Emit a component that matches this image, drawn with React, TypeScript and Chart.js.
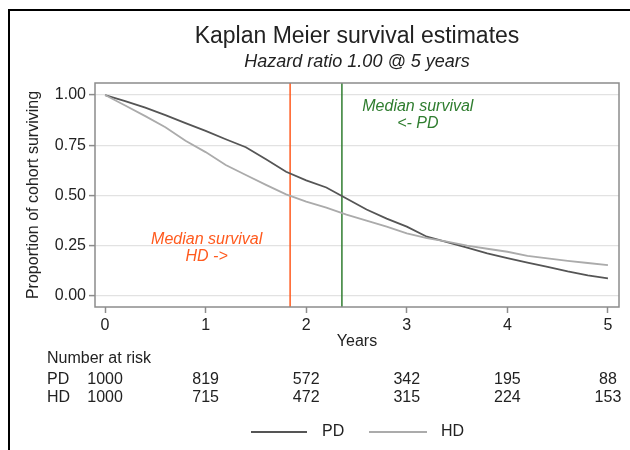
import React, { useEffect, useRef } from "react";
import { Chart, registerables } from "chart.js";

Chart.register(...registerables);

// ---- data ----
const years = [0, 0.2, 0.4, 0.6, 0.8, 1.0, 1.2, 1.4, 1.6, 1.8, 2.0, 2.2, 2.4, 2.6, 2.8, 3.0, 3.2, 3.4, 3.6, 3.8, 4.0, 4.2, 4.4, 4.6, 4.8, 5.0];
const pdSurvival = [1.0, 0.97, 0.937, 0.9, 0.86, 0.822, 0.78, 0.74, 0.68, 0.618, 0.575, 0.54, 0.485, 0.43, 0.385, 0.345, 0.295, 0.268, 0.24, 0.212, 0.188, 0.166, 0.145, 0.122, 0.102, 0.088];
const hdSurvival = [1.0, 0.948, 0.895, 0.84, 0.772, 0.716, 0.652, 0.602, 0.553, 0.506, 0.47, 0.44, 0.405, 0.375, 0.345, 0.312, 0.288, 0.27, 0.25, 0.235, 0.22, 0.2, 0.187, 0.175, 0.164, 0.153];
const xTickValues = [0, 1, 2, 3, 4, 5];
const yTickValues = [0, 0.25, 0.5, 0.75, 1.0];
const riskYears = [0, 1, 2, 3, 4, 5];
const pdAtRisk = [1000, 819, 572, 342, 195, 88];
const hdAtRisk = [1000, 715, 472, 315, 224, 153];
const medianHD = 1.84;
const medianPD = 2.355;
const titleText = "Kaplan Meier survival estimates";
const subtitleText = "Hazard ratio 1.00 @ 5 years";
const yTitle = "Proportion of cohort surviving";
const xTitle = "Years";

const FONT = '"Liberation Sans", Arial, Helvetica, sans-serif';
const TEXT = "#222222";
const PD_COLOR = "#555555";
const HD_COLOR = "#ababab";
const ORANGE = "#ff5a1e";
const GREEN = "#2f7d2f";

const decorPlugin = {
  id: "decor",
  beforeDatasetsDraw(chart: any) {
    const { ctx, chartArea, scales } = chart;
    const xs = scales.x;
    ctx.save();
    ctx.lineWidth = 1.5;
    ctx.strokeStyle = ORANGE;
    let px = xs.getPixelForValue(medianHD);
    ctx.beginPath();
    ctx.moveTo(px, chartArea.top);
    ctx.lineTo(px, chartArea.bottom);
    ctx.stroke();
    ctx.strokeStyle = GREEN;
    px = xs.getPixelForValue(medianPD);
    ctx.beginPath();
    ctx.moveTo(px, chartArea.top);
    ctx.lineTo(px, chartArea.bottom);
    ctx.stroke();
    ctx.restore();
  },
  afterDraw(chart: any) {
    const { ctx, chartArea, scales } = chart;
    const xs = scales.x;
    const ys = scales.y;
    ctx.save();
    // outer black border (left & top)
    ctx.fillStyle = "#000";
    ctx.fillRect(8, 9, 2, 441);
    ctx.fillRect(8, 9, 622, 2);

    // plot frame
    ctx.strokeStyle = "#8c8c8c";
    ctx.lineWidth = 1.5;
    ctx.strokeRect(chartArea.left, chartArea.top, chartArea.right - chartArea.left, chartArea.bottom - chartArea.top);

    const cx = (chartArea.left + chartArea.right) / 2;
    ctx.fillStyle = TEXT;
    ctx.textBaseline = "middle";
    ctx.textAlign = "center";
    ctx.font = `23px ${FONT}`;
    ctx.fillText(titleText, cx, 37);
    ctx.font = `italic 18px ${FONT}`;
    ctx.fillText(subtitleText, cx, 62);

    // axis titles
    ctx.font = `16px ${FONT}`;
    ctx.fillText(xTitle, cx, 342);
    ctx.save();
    ctx.translate(34, (chartArea.top + chartArea.bottom) / 2);
    ctx.rotate(-Math.PI / 2);
    ctx.fillText(yTitle, 0, 0);
    ctx.restore();

    // annotations
    ctx.font = `italic 16px ${FONT}`;
    ctx.fillStyle = ORANGE;
    const ox = xs.getPixelForValue(1.01);
    ctx.fillText("Median survival", ox, ys.getPixelForValue(0.279));
    ctx.fillText("HD ->", ox, ys.getPixelForValue(0.194));
    ctx.fillStyle = GREEN;
    const gx = xs.getPixelForValue(3.11);
    ctx.fillText("Median survival", gx, ys.getPixelForValue(0.945));
    ctx.fillText("<- PD", gx, ys.getPixelForValue(0.856));

    // number at risk
    ctx.fillStyle = TEXT;
    ctx.font = `16px ${FONT}`;
    ctx.textAlign = "left";
    ctx.fillText("Number at risk", 47, 359);
    ctx.fillText("PD", 47, 380);
    ctx.fillText("HD", 47, 398);
    ctx.textAlign = "center";
    riskYears.forEach((t, i) => {
      const x = xs.getPixelForValue(t);
      ctx.fillText(String(pdAtRisk[i]), x, 380);
      ctx.fillText(String(hdAtRisk[i]), x, 398);
    });

    // legend
    const ly = 432;
    ctx.lineWidth = 2;
    ctx.strokeStyle = PD_COLOR;
    ctx.beginPath();
    ctx.moveTo(251, ly);
    ctx.lineTo(307, ly);
    ctx.stroke();
    ctx.strokeStyle = HD_COLOR;
    ctx.beginPath();
    ctx.moveTo(369, ly);
    ctx.lineTo(427, ly);
    ctx.stroke();
    ctx.textAlign = "left";
    ctx.fillText("PD", 322, ly);
    ctx.fillText("HD", 441, ly);
    ctx.restore();
  },
};

export default function App() {
  const ref = useRef<HTMLCanvasElement | null>(null);
  useEffect(() => {
    if (!ref.current) return;
    const chart = new Chart(ref.current, {
      type: "line",
      data: {
        datasets: [
          {
            label: "HD",
            data: years.map((t, i) => ({ x: t, y: hdSurvival[i] })),
            borderColor: HD_COLOR,
            borderWidth: 1.8,
            pointRadius: 0,
            tension: 0,
            fill: false,
          },
          {
            label: "PD",
            data: years.map((t, i) => ({ x: t, y: pdSurvival[i] })),
            borderColor: PD_COLOR,
            borderWidth: 1.8,
            pointRadius: 0,
            tension: 0,
            fill: false,
          },
        ],
      },
      options: {
        responsive: false,
        animation: false,
        devicePixelRatio: 1,
        layout: { padding: { left: 0, top: 83, right: 11, bottom: 0 } },
        plugins: { legend: { display: false }, title: { display: false }, tooltip: { enabled: false } },
        scales: {
          x: {
            type: "linear",
            min: -0.1,
            max: 5.11,
            afterBuildTicks: (s: any) => {
              s.ticks = xTickValues.map((v) => ({ value: v }));
            },
            afterFit: (s: any) => {
              s.height = 143;
            },
            ticks: { color: TEXT, font: { family: FONT, size: 16 }, padding: 3, maxRotation: 0, autoSkip: false },
            grid: { drawOnChartArea: false, drawTicks: true, tickLength: 6, tickColor: "#8c8c8c", tickWidth: 1.5 },
            border: { display: false },
          },
          y: {
            type: "linear",
            min: -0.055,
            max: 1.06,
            afterBuildTicks: (s: any) => {
              s.ticks = yTickValues.map((v) => ({ value: v }));
            },
            afterFit: (s: any) => {
              s.width = 95;
            },
            ticks: {
              color: TEXT,
              font: { family: FONT, size: 16 },
              padding: 3,
              callback: (v: any) => Number(v).toFixed(2),
            },
            grid: { color: "#e2e2e2", lineWidth: 1.2, drawTicks: true, tickLength: 6, tickColor: "#8c8c8c", tickWidth: 1.5 },
            border: { display: false },
          },
        },
      },
      plugins: [decorPlugin],
    });
    return () => chart.destroy();
  }, []);
  return (
    <div style={{ position: "fixed", left: 0, top: 0, width: 630, height: 450, background: "#fff" }}>
      <canvas ref={ref} width={630} height={450} style={{ display: "block" }} />
    </div>
  );
}
